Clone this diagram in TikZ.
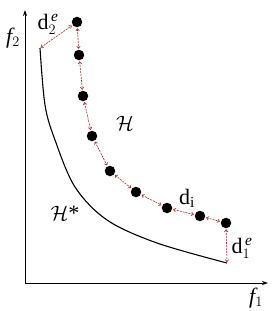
\documentclass[tikz,border=0pt]{standalone}
\usepackage{amsmath}
\usepackage{fontspec}
\setmainfont{Liberation Serif}
\usetikzlibrary{arrows.meta}
\definecolor{dred}{HTML}{A82828}
\begin{document}
\begin{tikzpicture}[x=1pt,y=-1pt,
  dot/.style={circle,fill=black,inner sep=0pt,minimum size=10.5pt},
  gap/.style={dred,dashed,dash pattern=on 2pt off 1pt,line width=0.6pt,{Straight Barb[length=2.2pt,width=3.5pt]}-{Straight Barb[length=2.2pt,width=3.5pt]},shorten <=0.8pt,shorten >=0.8pt},
  axis/.style={line width=0.8pt,-{Stealth[length=6pt,width=4pt]}},
  lbl/.style={font=\fontsize{22}{22}\selectfont,inner sep=0pt}]
\useasboundingbox (0,0) rectangle (273,311);
\coordinate (O) at (25,283);
\coordinate (ytip) at (25,10);
\coordinate (xtip) at (268,283);
\draw[axis] (O) -- (ytip);
\draw[axis] (O) -- (xtip);
\node[lbl] (f2) at (13,38) {\itshape f$_2$};
\node[lbl] (f1) at (256,298) {\itshape f$_1$};
\coordinate (c0) at (40,48);
\coordinate (c1) at (227,263);
\draw[line width=1.1pt] plot[smooth,tension=0.55] coordinates {(40,48) (45,105) (55,140) (75,187) (107,220) (157,243) (227,263)};
\node[dot] (p1) at (77,22) {};
\node[dot] (p2) at (79,55) {};
\node[dot] (p3) at (83,96) {};
\node[dot] (p4) at (92,136) {};
\node[dot] (p5) at (110,171) {};
\node[dot] (p6) at (136,192) {};
\node[dot] (p7) at (167,208) {};
\node[dot] (p8) at (200,216) {};
\node[dot] (p9) at (226,223) {};
\draw[gap] (c0) -- (p1);
\draw[gap] (p1) -- (p2);
\draw[gap] (p2) -- (p3);
\draw[gap] (p3) -- (p4);
\draw[gap] (p4) -- (p5);
\draw[gap] (p5) -- (p6);
\draw[gap] (p6) -- (p7);
\draw[gap] (p7) -- (p8);
\draw[gap] (p8) -- (p9);
\draw[gap] (p9) -- (c1);
\node[lbl] (d2) at (48,24) {d$_2^{\,\textit{e}}$};
\node[lbl] (di) at (187,198) {d$_{\mathrm{i}}$};
\node[lbl] (d1) at (242,248) {d$_1^{\,\textit{e}}$};
\node[lbl] (H) at (125,123) {$\mathcal{H}$};
\node[lbl] (Hs) at (65,213) {$\mathcal{H}$*};
\end{tikzpicture}
\end{document}
